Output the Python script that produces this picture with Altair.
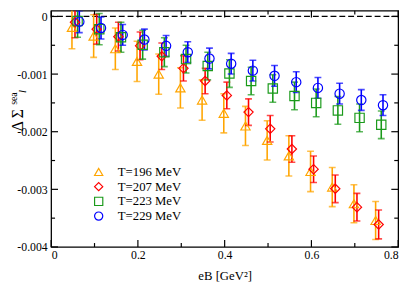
import altair as alt
import pandas as pd

# ---------------- data ----------------
labels = ["T=196 MeV", "T=207 MeV", "T=223 MeV", "T=229 MeV"]
colors = ["#ffa500", "#ff0000", "#1a9a1a", "#0000ff"]
shapes = ["triangle-up", "diamond", "square", "circle"]

eb_196 = [0.048, 0.098, 0.148, 0.198, 0.248, 0.298, 0.348, 0.398, 0.448, 0.498, 0.548, 0.598, 0.648, 0.698, 0.748]
ds_196 = [-0.00019, -0.00034, -0.00056, -0.00078, -0.00100, -0.00124, -0.00145, -0.00168, -0.00190, -0.00215,
          -0.00242, -0.00269, -0.00296, -0.00325, -0.00354]
er_196 = [0.00037, 0.00037, 0.00036, 0.00035, 0.00035, 0.00035, 0.00035, 0.00034, 0.00034, 0.00034,
          0.00035, 0.00035, 0.00034, 0.00033, 0.00033]

eb_207 = [0.055, 0.105, 0.155, 0.205, 0.255, 0.305, 0.355, 0.405, 0.455, 0.505, 0.555, 0.605, 0.655, 0.705, 0.755]
ds_207 = [-0.00010, -0.00022, -0.00035, -0.00051, -0.00069, -0.00090, -0.00112, -0.00137, -0.00166, -0.00195,
          -0.00230, -0.00265, -0.00299, -0.00331, -0.00361]
er_207 = [0.00027, 0.00026, 0.00025, 0.00024, 0.00023, 0.00022, 0.00022, 0.00023, 0.00023, 0.00023,
          0.00023, 0.00023, 0.00024, 0.00024, 0.00025]

eb_223 = [0.061, 0.111, 0.161, 0.211, 0.261, 0.311, 0.361, 0.411, 0.461, 0.511, 0.561, 0.611, 0.661, 0.711, 0.761]
ds_223 = [-0.00008, -0.00022, -0.00036, -0.00049, -0.00062, -0.00074, -0.00086, -0.00099, -0.00112, -0.00125,
          -0.00138, -0.00150, -0.00163, -0.00176, -0.00188]
er_223 = [0.00028, 0.00027, 0.00026, 0.00025, 0.00025, 0.00024, 0.00024, 0.00024, 0.00024, 0.00024,
          0.00024, 0.00024, 0.00024, 0.00024, 0.00024]

eb_229 = [0.065, 0.115, 0.165, 0.215, 0.265, 0.315, 0.365, 0.415, 0.465, 0.515, 0.565, 0.615, 0.665, 0.715, 0.765]
ds_229 = [-0.00009, -0.00020, -0.00032, -0.00040, -0.00051, -0.00062, -0.00073, -0.00082, -0.00094, -0.00103,
          -0.00114, -0.00124, -0.00134, -0.00145, -0.00154]
er_229 = [0.00019, 0.00019, 0.00018, 0.00018, 0.00018, 0.00018, 0.00018, 0.00018, 0.00018, 0.00018,
          0.00018, 0.00018, 0.00018, 0.00018, 0.00018]

x_major = [0.0, 0.2, 0.4, 0.6, 0.8]
x_minor = [0.1, 0.3, 0.5, 0.7]
y_major = [0.0, -0.001, -0.002, -0.003, -0.004]
y_minor = [-0.0005, -0.0015, -0.0025, -0.0035]
x_domain = [0.0, 0.8]
y_domain = [-0.004, 0.0001]

W, H = 354, 241
FONT = "Liberation Serif"

# ---------------- build tables ----------------
series = [(eb_196, ds_196, er_196), (eb_207, ds_207, er_207),
          (eb_223, ds_223, er_223), (eb_229, ds_229, er_229)]
frames = []
for lab, (xs_, ys_, es) in zip(labels, series):
    frames.append(pd.DataFrame({"T": lab, "eB": xs_, "ds": ys_,
                                "lo": [y - e for y, e in zip(ys_, es)],
                                "hi": [y + e for y, e in zip(ys_, es)]}))
df = pd.concat(frames, ignore_index=True)

xs = alt.Scale(domain=x_domain, nice=False, zero=False)
ys = alt.Scale(domain=y_domain, nice=False, zero=False)
cscale = alt.Scale(domain=labels, range=colors)
sscale = alt.Scale(domain=labels, range=shapes)

x_enc = alt.X("eB:Q", scale=xs,
              axis=alt.Axis(values=x_major, title="eB [GeV²]", grid=False, ticks=False, domain=False,
                            labelExpr="datum.value == 0 ? '0' : format(datum.value, '.1f')",
                            labelPadding=3, titlePadding=9))
y_enc = alt.Y("ds:Q", scale=ys,
              axis=alt.Axis(values=y_major, title=None, grid=False, ticks=False, domain=False,
                            labelExpr="datum.value == 0 ? '0' : replace(format(datum.value, '.3f'), '\u2212', '-')",
                            labelPadding=4))

# error bars: one set of layers per series, coloured by mark property
err_layers = []
for fr, col in zip(frames, colors):
    b = alt.Chart(fr)
    err_layers.append(b.mark_rule(strokeWidth=1.6, clip=True, color=col).encode(
        x=alt.X("eB:Q", scale=xs), y=alt.Y("lo:Q", scale=ys), y2="hi:Q"))
    err_layers.append(b.mark_tick(size=7, thickness=1.6, orient="horizontal", clip=True, color=col).encode(
        x=alt.X("eB:Q", scale=xs), y=alt.Y("lo:Q", scale=ys)))
    err_layers.append(b.mark_tick(size=7, thickness=1.6, orient="horizontal", clip=True, color=col).encode(
        x=alt.X("eB:Q", scale=xs), y=alt.Y("hi:Q", scale=ys)))

leg = alt.Legend(title=None, orient="none", legendX=42, legendY=158)
points = alt.Chart(df).mark_point(filled=False, size=90, strokeWidth=1.2, opacity=1).encode(
    x=x_enc, y=y_enc,
    color=alt.Color("T:N", scale=cscale, legend=leg),
    shape=alt.Shape("T:N", scale=sscale, legend=leg),
)

zero = alt.Chart(pd.DataFrame({"y": [0.0]})).mark_rule(
    color="black", strokeDash=[6, 3], strokeWidth=1.3).encode(y=alt.Y("y:Q", scale=ys))

# inward ticks on all four sides
xmaj = alt.Chart(pd.DataFrame({"v": x_major}))
xmin = alt.Chart(pd.DataFrame({"v": x_minor}))
ymaj = alt.Chart(pd.DataFrame({"v": y_major}))
ymin = alt.Chart(pd.DataFrame({"v": y_minor}))
tk = dict(color="black", strokeWidth=1.2)
ticks = [
    xmaj.mark_rule(**tk).encode(x=alt.X("v:Q", scale=xs), y=alt.value(H - 7), y2=alt.value(H)),
    xmaj.mark_rule(**tk).encode(x=alt.X("v:Q", scale=xs), y=alt.value(0), y2=alt.value(7)),
    xmin.mark_rule(**tk).encode(x=alt.X("v:Q", scale=xs), y=alt.value(H - 4), y2=alt.value(H)),
    xmin.mark_rule(**tk).encode(x=alt.X("v:Q", scale=xs), y=alt.value(0), y2=alt.value(4)),
    ymaj.mark_rule(**tk).encode(y=alt.Y("v:Q", scale=ys), x=alt.value(0), x2=alt.value(7)),
    ymaj.mark_rule(**tk).encode(y=alt.Y("v:Q", scale=ys), x=alt.value(W - 7), x2=alt.value(W)),
    ymin.mark_rule(**tk).encode(y=alt.Y("v:Q", scale=ys), x=alt.value(0), x2=alt.value(4)),
    ymin.mark_rule(**tk).encode(y=alt.Y("v:Q", scale=ys), x=alt.value(W - 4), x2=alt.value(W)),
]

# y-axis title  Δ Σ^sea_l  (rotated)
ttl = alt.Chart(pd.DataFrame({"t": ["Δ Σ"]})).mark_text(
    angle=270, align="left", baseline="alphabetic", font=FONT, fontSize=16, color="black").encode(
    text="t:N", x=alt.value(-29), y=alt.value(123))
sup = alt.Chart(pd.DataFrame({"t": ["sea"]})).mark_text(
    angle=270, align="left", baseline="alphabetic", font=FONT, fontSize=10, color="black").encode(
    text="t:N", x=alt.value(-35), y=alt.value(96))
sub = alt.Chart(pd.DataFrame({"t": ["l"]})).mark_text(
    angle=270, align="left", baseline="alphabetic", font=FONT, fontSize=11, fontStyle="italic",
    color="black").encode(text="t:N", x=alt.value(-26), y=alt.value(84))

chart = alt.layer(zero, *err_layers, points, *ticks, ttl, sup, sub).properties(
    width=W, height=H,
    autosize=alt.AutoSizeParams(type="none"),
    padding={"left": 44, "top": 0, "right": 9, "bottom": 34},
).configure_view(
    stroke="black", strokeWidth=1.3
).configure_axis(
    labelFont=FONT, labelFontSize=12, labelColor="black",
    titleFont=FONT, titleFontSize=13, titleColor="black", titleFontWeight="normal",
).configure_legend(
    labelFont=FONT, labelFontSize=13, labelColor="black", symbolSize=70, symbolStrokeWidth=1.2,
    rowPadding=0, labelOffset=13, padding=0,
)

chart.save("out.html", embed_options={"renderer": "svg", "actions": False})
